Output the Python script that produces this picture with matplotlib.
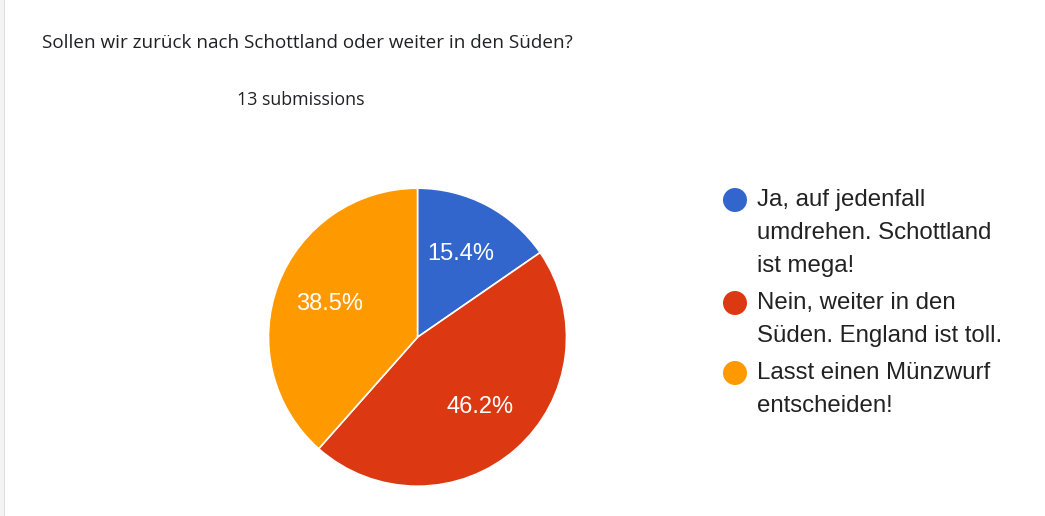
import matplotlib.pyplot as plt
from matplotlib.patches import Rectangle, Ellipse

# data
question = "Sollen wir zurück nach Schottland oder weiter in den Süden?"
n_submissions = 13
answers = ["Ja, auf jedenfall\numdrehen. Schottland\nist mega!",
           "Nein, weiter in den\nSüden. England ist toll.",
           "Lasst einen Münzwurf\nentscheiden!"]
counts = [2, 6, 5]
colors = ["#3366cc", "#dc3912", "#ff9900"]

W, H = 1045, 516


def fx(px):
    return px / W


def fy(py):
    # pixel y from top -> figure fraction
    return 1 - py / H


def main():
    fig = plt.figure(figsize=(W / 100, H / 100), dpi=100)
    fig.patch.set_facecolor("white")

    # card edge on the left
    fig.patches.append(Rectangle((0, 0), fx(4), 1, transform=fig.transFigure,
                                 facecolor="#f3f3f3", edgecolor="none"))
    fig.patches.append(Rectangle((fx(4), 0), fx(1.2), 1, transform=fig.transFigure,
                                 facecolor="#dadce0", edgecolor="none"))

    fig.text(fx(42), fy(43), question, fontsize=13.6, family="Open Sans",
             color="#202124", va="center", ha="left")
    fig.text(fx(237), fy(100), f"{n_submissions} submissions", fontsize=12.9,
             family="Open Sans", color="#202124", va="center", ha="left")

    # pie
    r = 149
    cx, cy = 417.5, 337.2
    ax = fig.add_axes([fx(cx - r), fy(cy + r), fx(2 * r), (2 * r) / H])
    wedges, texts, autotexts = ax.pie(
        counts, colors=colors, startangle=90, counterclock=False,
        autopct="%.1f%%", pctdistance=0.63,
        wedgeprops=dict(edgecolor="white", linewidth=1.2),
        textprops=dict(color="white", fontsize=17, family="Liberation Sans"))
    ax.set_xlim(-1, 1)
    ax.set_ylim(-1, 1)
    ax.set_aspect("auto")
    ax.axis("off")

    # legend
    step = 33
    gap = 37
    y = 200
    for label, c in zip(answers, colors):
        dot = Ellipse((fx(735), fy(y)), width=24 / W, height=24 / H,
                      transform=fig.transFigure, facecolor=c, edgecolor="none")
        fig.patches.append(dot)
        lines = label.split("\n")
        for i, line in enumerate(lines):
            fig.text(fx(757), fy(y + i * step), line, fontsize=17.3,
                     family="Liberation Sans", color="#222222",
                     va="center", ha="left")
        y += (len(lines) - 1) * step + gap

    plt.savefig("out.png", dpi=100)


if __name__ == "__main__":
    main()
